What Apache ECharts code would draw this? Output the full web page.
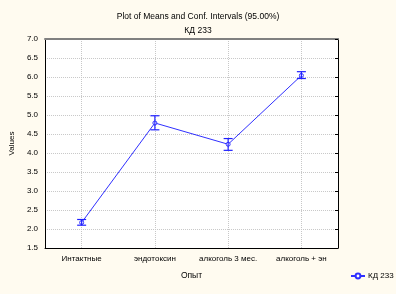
<!DOCTYPE html>
<html><head><meta charset="utf-8">
<script src="https://cdn.jsdelivr.net/npm/echarts@6/dist/echarts.min.js"></script>
<style>html,body{margin:0;padding:0;background:#fffbf0;}#c{width:396px;height:294px;}</style>
</head><body><div id="c"></div>
<script>
const categories = ['Интактные', 'эндотоксин', 'алкоголь 3 мес.', 'алкоголь + эн'];
const means = [2.17, 4.79, 4.23, 6.04];
const lower = [2.10, 4.61, 4.07, 5.96];
const upper = [2.25, 4.98, 4.38, 6.14];
const seriesName = 'КД 233';

const FONT = 'Liberation Sans';
const chart = echarts.init(document.getElementById('c'), null, {renderer: 'canvas'});
const errData = categories.map((c, i) => [i, lower[i], upper[i]]);
chart.setOption({
  backgroundColor: '#fffbf0',
  animation: false,
  title: [
    {text: 'Plot of Means and Conf. Intervals (95.00%)', left: 'center', top: 7,
     textStyle: {fontFamily: FONT, fontSize: 8.5, fontWeight: 'normal', color: '#000'}},
    {text: 'КД 233', left: 'center', top: 21,
     textStyle: {fontFamily: FONT, fontSize: 8.5, fontWeight: 'normal', color: '#000'}}
  ],
  legend: {
    left: 345, top: 267, itemWidth: 14, itemHeight: 6, itemGap: 3,
    textStyle: {fontFamily: FONT, fontSize: 8, color: '#000', padding: [0, 0, 0, -2]},
    data: [seriesName]
  },
  grid: {left: 37, right: 58, top: 39, bottom: 46, backgroundColor: '#fff', show: true, borderWidth: 0},
  xAxis: [{
    type: 'category', data: categories, position: 'bottom',
    name: 'Опыт', nameLocation: 'middle', nameGap: 23,
    nameTextStyle: {fontFamily: FONT, fontSize: 8.5, color: '#000'},
    axisLine: {lineStyle: {color: '#000', width: 1}},
    axisTick: {alignWithLabel: true, length: 3, lineStyle: {color: '#000'}},
    axisLabel: {fontFamily: FONT, fontSize: 8, color: '#000', margin: 7, interval: 0},
    splitLine: {show: true, alignWithLabel: true, lineStyle: {color: '#c8c8c8', type: 'dotted'}}
  }, {
    type: 'category', data: categories, position: 'top',
    axisLine: {lineStyle: {color: '#808080', width: 2}},
    axisTick: {alignWithLabel: true, inside: true, length: 3, lineStyle: {color: '#000'}},
    axisLabel: {show: false}, splitLine: {show: false}
  }],
  yAxis: [{
    type: 'value', min: 1.5, max: 7, interval: 0.5,
    name: 'Values', nameLocation: 'middle', nameGap: 23, nameRotate: 90,
    nameTextStyle: {fontFamily: FONT, fontSize: 8, color: '#000'},
    axisLine: {show: true, lineStyle: {color: '#000'}},
    axisTick: {show: false},
    axisLabel: {fontFamily: FONT, fontSize: 8, color: '#000', margin: 7, formatter: v => v.toFixed(1)},
    splitLine: {show: true, lineStyle: {color: '#c8c8c8', type: 'dotted'}}
  }, {
    type: 'value', min: 1.5, max: 7, interval: 0.5, position: 'right',
    axisLine: {show: true, lineStyle: {color: '#000'}},
    axisTick: {show: true, inside: true, length: 3, lineStyle: {color: '#000'}},
    axisLabel: {show: false}, splitLine: {show: false}
  }],
  series: [{
    name: seriesName, type: 'line', data: means,
    symbol: 'circle', symbolSize: 4,
    itemStyle: {color: '#ffffff', borderColor: '#3030ff', borderWidth: 1},
    lineStyle: {color: '#3030ff', width: 1}, z: 3
  }, {
    name: 'err', type: 'custom', data: errData, z: 4,
    renderItem: function (params, api) {
      const x = api.value(0);
      const lo = api.coord([x, api.value(1)]);
      const hi = api.coord([x, api.value(2)]);
      const w = 4.5;
      const st = {stroke: '#2020ff', lineWidth: 1.2};
      return {type: 'group', children: [
        {type: 'line', shape: {x1: lo[0], y1: lo[1], x2: hi[0], y2: hi[1]}, style: st},
        {type: 'line', shape: {x1: lo[0]-w, y1: lo[1], x2: lo[0]+w, y2: lo[1]}, style: st},
        {type: 'line', shape: {x1: hi[0]-w, y1: hi[1], x2: hi[0]+w, y2: hi[1]}, style: st}
      ]};
    }
  }]
});
</script></body></html>
